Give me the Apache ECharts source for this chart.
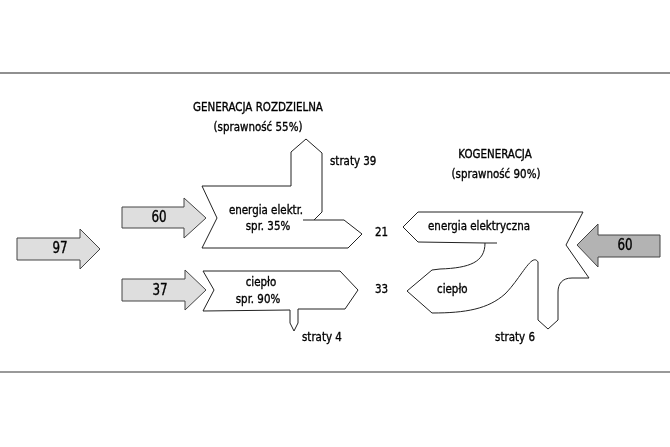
<!DOCTYPE html>
<html lang="pl">
<head>
<meta charset="UTF-8">
<title>Generacja rozdzielna a kogeneracja</title>
<style>
  html, body { margin: 0; padding: 0; background: #fff; }
  #chart { width: 670px; height: 447px; }
</style>
<script src="https://cdn.jsdelivr.net/npm/echarts@6/dist/echarts.min.js"></script>
</head>
<body>
<div id="chart"></div>
<script>
// dane (jednostki energii)
var fuelSeparate = [97, 60, 37];       // paliwo: razem, do elektrowni, do kotłowni
var usefulSeparate = [21, 33];         // energia elektryczna, ciepło
var lossesSeparate = [39, 4];          // straty elektrowni, straty kotłowni
var fuelCogen = [60];
var lossesCogen = [6];
var efficiency = [55, 35, 90, 90];     // rozdzielna, elektrownia, kotłownia, kogeneracja
var titles = ['GENERACJA ROZDZIELNA', 'KOGENERACJA'];
var streamNames = ['energia elektr.', 'ciepło', 'energia elektryczna', 'straty'];

// układ rysunku: kontury strzałek w układzie osi (0..670 x 0..447)
var FONT = "'Liberation Sans Narrow', 'DejaVu Sans Condensed', Arial, sans-serif";
var LIGHT = '#dedede', DARK = '#b3b3b3', INK = '#222';

var shapes = [
    // wejście 97
    {segs: [['M',17,238],['L',80,238],['L',80,229],['L',100,249],['L',80,269],['L',80,260],['L',17,260],['Z']], fill: LIGHT, stroke: '#444'},
    // wejście 60 (elektrownia)
    {segs: [['M',122,207],['L',184,207],['L',184,198],['L',206,218],['L',184,238],['L',184,228],['L',122,228],['Z']], fill: LIGHT, stroke: '#444'},
    // wejście 37 (kotłownia)
    {segs: [['M',122,279],['L',185,279],['L',185,270],['L',206,290],['L',185,310],['L',185,301],['L',122,301],['Z']], fill: LIGHT, stroke: '#444'},
    // wejście 60 (kogeneracja)
    {segs: [['M',660,235],['L',598,235],['L',598,224],['L',577,245],['L',598,267],['L',598,257],['L',660,257],['Z']], fill: DARK, stroke: '#444'},
    // elektrownia
    {segs: [['M',202,186],['L',291,186],['L',291,152],['L',306,139],['L',322,153],['L',322,212],['L',314,220],
            ['L',344,220],['L',362,234],['L',348,248],['L',202,248],['L',217,218],['Z']], fill: '#fff', stroke: INK},
    {segs: [['M',303,220],['L',314,220]], fill: null, stroke: INK},
    // kotłownia
    {segs: [['M',203,271],['L',340,271],['L',358,290],['L',345,309],['L',298,309],['L',298,323],['L',294,331],
            ['L',290,323],['L',290,310],['L',203,311],['L',214,290],['Z']], fill: '#fff', stroke: INK},
    // kogeneracja
    {segs: [['M',403,227],['L',418,212],['L',583,212],['L',566,245],['L',589,278],['L',572,278],
            ['C',562,278,558,284,558,292],['L',558,320],['L',548,329],['L',538,320],['L',538,262],
            ['C',532,252,521,278,505,294],['C',488,309,466,313,432,313],['L',407,291],['L',432,270],
            ['L',440,269],['C',470,268,485,262,485,243],['L',418,242],['Z']], fill: '#fff', stroke: INK},
    {segs: [['M',485,243],['L',497,243]], fill: null, stroke: INK},
    // linie poziome
    {segs: [['M',0,73],['L',670,73]], fill: null, stroke: '#222', width: 1.2},
    {segs: [['M',0,372],['L',670,372]], fill: null, stroke: '#999', width: 2}
];

var labels = [
    {x: 258, y: 108, text: titles[0], align: 'center'},
    {x: 258, y: 128, text: '(sprawność ' + efficiency[0] + '%)', align: 'center'},
    {x: 266, y: 211, text: streamNames[0], align: 'center'},
    {x: 268, y: 227, text: 'spr. ' + efficiency[1] + '%', align: 'center'},
    {x: 330, y: 162, text: streamNames[3] + ' ' + lossesSeparate[0], align: 'left'},
    {x: 375, y: 233, text: String(usefulSeparate[0]), align: 'left'},
    {x: 261, y: 283, text: streamNames[1], align: 'center'},
    {x: 258, y: 300, text: 'spr. ' + efficiency[2] + '%', align: 'center'},
    {x: 375, y: 290, text: String(usefulSeparate[1]), align: 'left'},
    {x: 302, y: 338, text: streamNames[3] + ' ' + lossesSeparate[1], align: 'left'},
    {x: 495, y: 155, text: titles[1], align: 'center'},
    {x: 496, y: 175, text: '(sprawność ' + efficiency[3] + '%)', align: 'center'},
    {x: 479, y: 227, text: streamNames[2], align: 'center'},
    {x: 437, y: 290, text: streamNames[1], align: 'left'},
    {x: 515, y: 338, text: streamNames[3] + ' ' + lossesCogen[0], align: 'center'},
    {x: 60, y: 249, text: String(fuelSeparate[0]), align: 'center', big: true},
    {x: 159, y: 218, text: String(fuelSeparate[1]), align: 'center', big: true},
    {x: 160, y: 291, text: String(fuelSeparate[2]), align: 'center', big: true},
    {x: 625, y: 246, text: String(fuelCogen[0]), align: 'center', big: true}
];

function toPath(segs, api) {
    return segs.map(function (s) {
        var out = [s[0]];
        for (var i = 1; i < s.length; i += 2) {
            var p = api.coord([s[i], s[i + 1]]);
            out.push(p[0].toFixed(1), p[1].toFixed(1));
        }
        return out.join(' ');
    }).join(' ');
}

var chart = echarts.init(document.getElementById('chart'));

chart.setOption({
    animation: false,
    backgroundColor: '#fff',
    grid: {left: 0, right: 0, top: 0, bottom: 0},
    xAxis: {type: 'value', min: 0, max: 670, show: false},
    yAxis: {type: 'value', min: 0, max: 447, inverse: true, show: false},
    series: [
        {
            type: 'custom',
            silent: true,
            clip: false,
            data: shapes.map(function (s, i) { return [i, 0]; }),
            renderItem: function (params, api) {
                var s = shapes[params.dataIndex];
                return {
                    type: 'path',
                    shape: {pathData: toPath(s.segs, api)},
                    style: {
                        fill: s.fill || 'none',
                        stroke: s.stroke,
                        lineWidth: s.width || 1,
                        lineJoin: 'miter'
                    }
                };
            }
        },
        {
            type: 'custom',
            silent: true,
            clip: false,
            data: labels.map(function (l) { return [l.x, l.y]; }),
            renderItem: function (params, api) {
                var l = labels[params.dataIndex];
                var p = api.coord([l.x, l.y]);
                // zwężenie tekstu (brak kroju Helvetica Condensed), lekko pogrubione obrysem
                return {
                    type: 'text',
                    x: p[0],
                    y: p[1],
                    scaleX: 0.88,
                    style: {
                        text: l.text,
                        align: l.align,
                        verticalAlign: 'middle',
                        fill: '#000',
                        stroke: '#000',
                        lineWidth: 0.35,
                        font: (l.big ? '15px ' : '13px ') + FONT
                    }
                };
            }
        }
    ]
});
</script>
</body>
</html>
